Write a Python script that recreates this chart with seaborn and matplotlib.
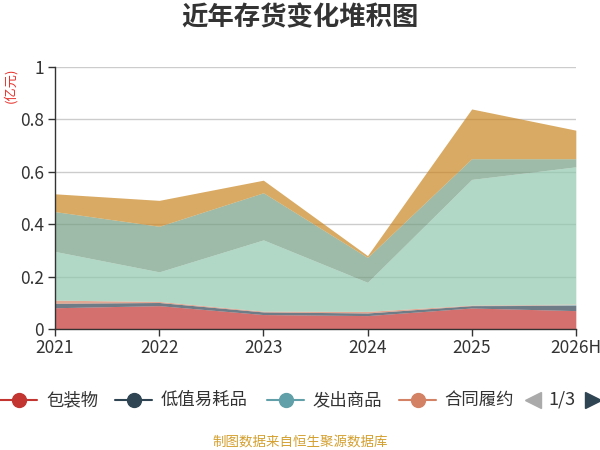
import matplotlib
matplotlib.use("Agg")
import matplotlib.pyplot as plt
from matplotlib.lines import Line2D
import seaborn as sns
import numpy as np
import pandas as pd

# ---- data ----
years = ["2021", "2022", "2023", "2024", "2025", "2026H"]
series_names = ["包装物", "低值易耗品", "发出商品", "合同履约成本", "库存商品", "原材料", "在产品"]
pkg = [0.081, 0.089, 0.055, 0.051, 0.080, 0.070]
low_value = [0.017, 0.012, 0.010, 0.010, 0.009, 0.020]
shipped = [0.0, 0.0, 0.0, 0.0, 0.0, 0.003]
contract = [0.012, 0.004, 0.003, 0.006, 0.002, 0.002]
goods = [0.186, 0.113, 0.272, 0.111, 0.480, 0.524]
raw = [0.152, 0.174, 0.180, 0.095, 0.079, 0.031]
wip = [0.068, 0.099, 0.048, 0.007, 0.190, 0.109]
legend_shown = ["包装物", "低值易耗品", "发出商品", "合同履约"]
yticks = [0, 0.2, 0.4, 0.6, 0.8, 1]
ytick_labels = ["0", "0.2", "0.4", "0.6", "0.8", "1"]
palette = ["#c23531", "#2f4554", "#61a0a8", "#d48265", "#91c7ae", "#749f83", "#ca8622"]

df = pd.DataFrame({"年份": years, "包装物": pkg, "低值易耗品": low_value, "发出商品": shipped,
                   "合同履约成本": contract, "库存商品": goods, "原材料": raw, "在产品": wip})

sns.set_theme(style="white")
plt.rcParams["font.family"] = ["Noto Sans CJK SC", "DejaVu Sans"]
plt.rcParams["axes.unicode_minus"] = False

fig = plt.figure(figsize=(6, 4.5), dpi=100)
ax = fig.add_axes([0.0917, 0.269, 0.868, 0.582])

x = np.arange(len(years))
ax.set_axisbelow(True)
ax.yaxis.grid(True, color="#cccccc", linewidth=1)
ax.stackplot(x, [df[n].values for n in series_names], colors=palette, alpha=0.7,
             linewidth=0, zorder=2)

ax.set_xlim(0, len(years) - 1)
ax.set_ylim(0, 1)
ax.set_xticks(x)
ax.set_xticklabels(years, fontsize=12.5, color="#333333")
ax.set_yticks(yticks)
ax.set_yticklabels(ytick_labels, fontsize=12.5, color="#333333")
ax.tick_params(axis="x", length=5, width=1, color="#333333", pad=2, bottom=True)
ax.tick_params(axis="y", length=5, width=1, color="#333333", pad=3, left=True)
for s in ["top", "right"]:
    ax.spines[s].set_visible(False)
for s in ["left", "bottom"]:
    ax.spines[s].set_color("#333333")
    ax.spines[s].set_linewidth(1)

# y unit label
fig.text(10 / 600, 1 - 85 / 450, "(亿元)", rotation=90, color="#e6322c", fontsize=9.5,
         ha="center", va="center")

# title
fig.text(0.5, 1 - 18 / 450, "近年存货变化堆积图", ha="center", va="center", fontsize=19,
         fontweight="bold", color="#333333")

# legend (page 1 of 3)
ly = 1 - 400 / 450
item_x = [0, 115, 267, 399]
text_x = [46, 161, 312, 444]
for i, name in enumerate(legend_shown):
    x0 = item_x[i] / 600
    ln = Line2D([x0, x0 + 37 / 600], [ly, ly], transform=fig.transFigure, color=palette[i],
                linewidth=1.5)
    fig.add_artist(ln)
    mk = Line2D([x0 + 19 / 600], [ly], transform=fig.transFigure, color=palette[i],
                marker="o", markersize=10, linestyle="none")
    fig.add_artist(mk)
    fig.text(text_x[i] / 600, ly, name, ha="left", va="center", fontsize=12.5, color="#333333")

# pager
fig.add_artist(Line2D([533 / 600], [ly], transform=fig.transFigure, marker="<", markersize=12,
                      color="#aaaaaa", linestyle="none"))
fig.text(562 / 600, ly, "1/3", ha="center", va="center", fontsize=13, color="#333333")
fig.add_artist(Line2D([593 / 600], [ly], transform=fig.transFigure, marker=">", markersize=12,
                      color="#2f4554", linestyle="none"))

# footer
fig.text(0.5, 1 - 442 / 450, "制图数据来自恒生聚源数据库", ha="center", va="center",
         fontsize=9.7, color="#d4a030")

fig.savefig("out.png", dpi=100)
